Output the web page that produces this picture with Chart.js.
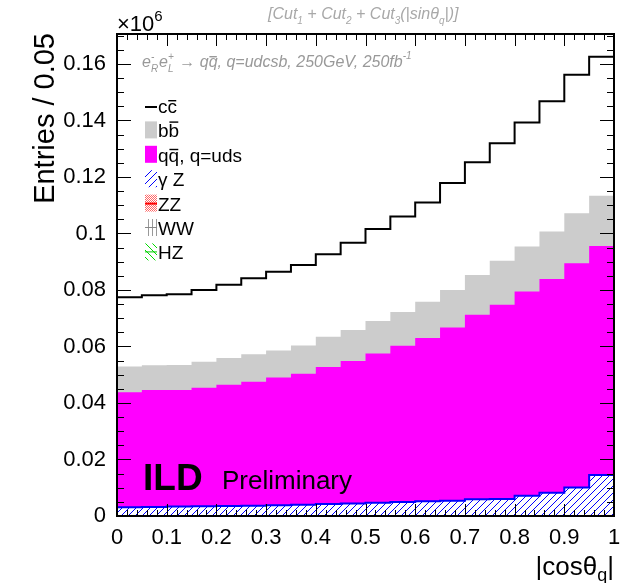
<!DOCTYPE html>
<html>
<head>
<meta charset="utf-8">
<script src="https://cdn.jsdelivr.net/npm/chart.js@4.4.1/dist/chart.umd.min.js"></script>
<style>
  html, body { margin: 0; padding: 0; background: #fff; }
  #wrap { width: 620px; height: 583px; }
</style>
</head>
<body>
<div id="wrap"><canvas id="myChart" width="620" height="583"></canvas></div>
<script>
// |cos theta_q| bins (width 0.05), entries in units of 10^6
const binEdges = [0, 0.05, 0.1, 0.15, 0.2, 0.25, 0.3, 0.35, 0.4, 0.45, 0.5,
                  0.55, 0.6, 0.65, 0.7, 0.75, 0.8, 0.85, 0.9, 0.95, 1];

// stack, bottom to top
const hzVals  = [0.00002, 0.00002, 0.00002, 0.00002, 0.00002, 0.00002, 0.00002, 0.00002, 0.00002, 0.00002,
                 0.00002, 0.00002, 0.00002, 0.00002, 0.00002, 0.00002, 0.00002, 0.00003, 0.00003, 0.00003];
const wwVals  = [0.00004, 0.00004, 0.00004, 0.00004, 0.00004, 0.00004, 0.00004, 0.00004, 0.00004, 0.00004,
                 0.00004, 0.00004, 0.00004, 0.00004, 0.00005, 0.00005, 0.00005, 0.00005, 0.00006, 0.00006];
const zzVals  = [0.00006, 0.00006, 0.00006, 0.00006, 0.00006, 0.00006, 0.00006, 0.00006, 0.00006, 0.00006,
                 0.00006, 0.00006, 0.00006, 0.00007, 0.00007, 0.00007, 0.00008, 0.00008, 0.00009, 0.00010];
const gzVals  = [0.0030, 0.0031, 0.0032, 0.0033, 0.0034, 0.0035, 0.0037, 0.0039, 0.0041, 0.0043,
                 0.0046, 0.0048, 0.0051, 0.0053, 0.0058, 0.0059, 0.0070, 0.0081, 0.0099, 0.0143];
const udsVals = [0.0407, 0.0414, 0.0413, 0.0420, 0.0429, 0.0439, 0.0452, 0.0463, 0.0485, 0.0504,
                 0.0528, 0.0553, 0.0578, 0.0613, 0.0653, 0.0687, 0.0723, 0.0756, 0.0794, 0.0811];
const bbVals  = [0.0091, 0.0087, 0.0088, 0.0092, 0.0095, 0.0097, 0.0096, 0.0100, 0.0107, 0.0110,
                 0.0115, 0.0120, 0.0128, 0.0133, 0.0141, 0.0156, 0.0159, 0.0168, 0.0177, 0.0178];
const ccVals  = [0.0245, 0.0248, 0.0251, 0.0254, 0.0259, 0.0269, 0.0278, 0.0285, 0.0292, 0.0309,
                 0.0326, 0.0338, 0.0351, 0.0378, 0.0399, 0.0416, 0.0439, 0.0461, 0.0490, 0.0492];

const xTickVals = [0, 0.1, 0.2, 0.3, 0.4, 0.5, 0.6, 0.7, 0.8, 0.9, 1];
const yTickVals = [0, 0.02, 0.04, 0.06, 0.08, 0.1, 0.12, 0.14, 0.16];
const yMax = 0.1706;

const FONT = '"Liberation Sans", Arial, sans-serif';

function makePattern(size, draw) {
  const c = document.createElement('canvas');
  c.width = c.height = size;
  const g = c.getContext('2d');
  draw(g, size);
  return g.createPattern(c, 'repeat');
}
function slashes(color, dir, bg) {
  return makePattern(7, (g, s) => {
    if (bg) { g.fillStyle = bg; g.fillRect(0, 0, s, s); }
    g.strokeStyle = color; g.lineWidth = 1;
    g.beginPath();
    for (let o = -s; o <= s; o += s) {
      if (dir > 0) { g.moveTo(o, s); g.lineTo(o + s, 0); }
      else { g.moveTo(o, 0); g.lineTo(o + s, s); }
    }
    g.stroke();
  });
}
const blueHatch = slashes('#0000ff', 1, '#ffffff');
const greenHatch = slashes('#00dd00', -1, null);
const redDots = makePattern(2, (g) => { g.fillStyle = '#ff6666'; g.fillRect(0, 0, 1, 1); g.fillRect(1, 1, 1, 1); });
const greyBars = makePattern(4, (g) => { g.fillStyle = '#999'; g.fillRect(0, 0, 1, 4); });

// cumulative stack
const stack = [
  {name: 'HZ', vals: hzVals, fill: greenHatch, line: '#00cc00', w: 2},
  {name: 'WW', vals: wwVals, fill: greyBars, line: '#888888', w: 1},
  {name: 'ZZ', vals: zzVals, fill: redDots, line: '#ff0000', w: 1},
  {name: 'gZ', vals: gzVals, fill: blueHatch, line: '#0000ff', w: 2},
  {name: 'uds', vals: udsVals, fill: '#ff00ff', line: 'rgba(0,0,0,0)', w: 1},
  {name: 'bb', vals: bbVals, fill: '#cccccc', line: 'rgba(0,0,0,0)', w: 1},
  {name: 'cc', vals: ccVals, fill: false, line: '#000000', w: 2}
];
let running = binEdges.slice(1).map(() => 0);
const datasets = stack.map(s => {
  running = running.map((r, i) => r + s.vals[i]);
  const cum = running.slice();
  return {
    label: s.name,
    data: binEdges.map((x, i) => ({x: x, y: cum[Math.min(i, cum.length - 1)]})),
    stepped: 'before',
    fill: s.fill ? 'origin' : false,
    backgroundColor: s.fill || 'rgba(0,0,0,0)',
    borderColor: s.line,
    borderWidth: s.w,
    pointRadius: 0
  };
});

// text pieces: [text, size, dy, overlineHeight] or {sup, sub, size}
function rich(ctx, x, y, parts, style) {
  let cx = x;
  for (const p of parts) {
    if (!Array.isArray(p)) {
      ctx.font = `${style || ''} ${p.size}px ${FONT}`;
      ctx.fillText(p.sup, cx, y - p.size * 0.7);
      ctx.fillText(p.sub, cx, y + p.size * 0.45);
      cx += Math.max(ctx.measureText(p.sup).width, ctx.measureText(p.sub).width) + 1;
      continue;
    }
    const [txt, size, dy = 0, over = 0] = p;
    ctx.font = `${style || ''} ${size}px ${FONT}`;
    ctx.fillText(txt, cx, y + dy);
    const w = ctx.measureText(txt).width;
    if (over) ctx.fillRect(cx + w * 0.08, y + dy - over, w * 0.84, 1.4);
    cx += w;
  }
  return cx - x;
}
function richWidth(ctx, parts, style) {
  let w = 0;
  for (const p of parts) { ctx.font = `${style || ''} ${p[1]}px ${FONT}`; w += ctx.measureText(p[0]).width; }
  return w;
}

const legendItems = [
  {parts: [['c', 19], ['c', 19, 0, 13]], kind: 'line'},
  {parts: [['b', 19], ['b', 19, 0, 16]], kind: 'grey'},
  {parts: [['q', 19], ['q', 19, 0, 13], [', q=uds', 19]], kind: 'magenta'},
  {parts: [['\u03b3 Z', 19]], kind: 'gz'},
  {parts: [['ZZ', 19]], kind: 'zz'},
  {parts: [['WW', 19]], kind: 'ww'},
  {parts: [['HZ', 19]], kind: 'hz'}
];

const rootStyle = {
  id: 'rootStyle',
  afterDatasetsDraw(chart) {
    const {ctx, chartArea: a, scales: {x, y}} = chart;
    ctx.save();
    ctx.strokeStyle = '#000';
    ctx.lineWidth = 1;
    ctx.beginPath();
    for (let k = 0; k <= 50; k++) {
      const px = Math.round(x.getPixelForValue(k * 0.02)) + 0.5;
      const len = k % 5 === 0 ? 12 : 6;
      ctx.moveTo(px, a.bottom); ctx.lineTo(px, a.bottom - len);
      ctx.moveTo(px, a.top); ctx.lineTo(px, a.top + len);
    }
    for (let k = 0; k * 0.005 <= yMax; k++) {
      const py = Math.round(y.getPixelForValue(k * 0.005)) + 0.5;
      const len = k % 4 === 0 ? 14 : 7;
      ctx.moveTo(a.left, py); ctx.lineTo(a.left + len, py);
      ctx.moveTo(a.right, py); ctx.lineTo(a.right - len, py);
    }
    ctx.stroke();
    ctx.lineWidth = 2;
    ctx.strokeRect(a.left, a.top, a.right - a.left, a.bottom - a.top);
    ctx.restore();
  },
  afterDraw(chart) {
    const {ctx, chartArea: a} = chart;
    ctx.save();
    ctx.textBaseline = 'alphabetic';
    ctx.textAlign = 'left';

    // x10^6
    ctx.fillStyle = '#000';
    rich(ctx, a.left, 31, [['\u00d710', 22], ['6', 15, -10]]);

    // top title
    ctx.fillStyle = '#a8a8a8';
    rich(ctx, 268, 19, [['[Cut', 16], ['1', 10, 5], [' + Cut', 16], ['2', 10, 5], [' + Cut', 16], ['3', 10, 5],
      ['(|sin\u03b8', 16], ['q', 10, 5], ['|)]', 16]], 'italic');

    // process text
    ctx.fillStyle = '#999999';
    rich(ctx, 142, 67, [['e', 16], {sup: '-', sub: 'R', size: 10}, ['e', 16], {sup: '+', sub: 'L', size: 10},
      [' \u2192 q', 16], ['q', 16, 0, 11], [', q=udcsb, 250GeV, 250fb', 16], ['-1', 10, -8]], 'italic');

    // legend
    ctx.fillStyle = '#000';
    legendItems.forEach((it, i) => {
      const base = 113 + i * 24.4;
      const bx = 145, bw = 12, top = base - 16, bh = 17;
      ctx.save();
      if (it.kind === 'line') {
        ctx.strokeStyle = '#000'; ctx.lineWidth = 2;
        ctx.beginPath(); ctx.moveTo(bx, base - 6); ctx.lineTo(bx + bw, base - 6); ctx.stroke();
      } else if (it.kind === 'grey') {
        ctx.fillStyle = '#cccccc'; ctx.fillRect(bx, top, bw, bh);
      } else if (it.kind === 'magenta') {
        ctx.fillStyle = '#ff00ff'; ctx.fillRect(bx, top, bw, bh);
      } else if (it.kind === 'gz') {
        ctx.fillStyle = blueHatch; ctx.fillRect(bx, top, bw, bh);
      } else if (it.kind === 'zz') {
        ctx.fillStyle = redDots; ctx.fillRect(bx, top, bw, bh);
        ctx.fillStyle = '#ff0000'; ctx.fillRect(bx, top + 8, bw, 2);
      } else if (it.kind === 'ww') {
        ctx.fillStyle = greyBars; ctx.fillRect(bx, top, bw, bh);
        ctx.fillStyle = '#888'; ctx.fillRect(bx, top + 8, bw, 1);
      } else if (it.kind === 'hz') {
        ctx.fillStyle = greenHatch; ctx.fillRect(bx, top, bw, bh);
        ctx.fillStyle = '#00cc00'; ctx.fillRect(bx, top + 8, bw, 1);
      }
      ctx.restore();
      ctx.fillStyle = '#000';
      rich(ctx, 158, base, it.parts);
    });

    // ILD Preliminary
    ctx.fillStyle = '#000';
    ctx.font = `bold 37px ${FONT}`;
    ctx.fillText('ILD', 143, 490);
    ctx.font = `26px ${FONT}`;
    ctx.fillText('Preliminary', 222, 489);

    // y axis title
    ctx.save();
    ctx.translate(53.5, a.top - 1);
    ctx.rotate(-Math.PI / 2);
    ctx.textAlign = 'right';
    ctx.font = `29px ${FONT}`;
    ctx.fillText('Entries / 0.05', 0, 0);
    ctx.restore();

    // x axis title
    const xt = [['|cos\u03b8', 26], ['q', 18, 6], ['|', 26]];
    const w = richWidth(ctx, xt);
    rich(ctx, a.right - w, 575, xt);
    ctx.restore();
  }
};

const ctx = document.getElementById('myChart').getContext('2d');
window.myChart = new Chart(ctx, {
  type: 'line',
  data: { datasets: datasets },
  options: {
    responsive: false,
    animation: false,
    layout: { padding: { left: 0, right: 6, top: 34, bottom: 0 } },
    plugins: { legend: { display: false }, tooltip: { enabled: false } },
    scales: {
      x: {
        type: 'linear', min: 0, max: 1,
        grid: { display: false }, border: { display: false },
        afterBuildTicks: s => { s.ticks = xTickVals.map(v => ({ value: v })); },
        afterFit: s => { s.height = 67; s.paddingLeft = 0; s.paddingRight = 0; },
        ticks: {
          font: { family: FONT, size: 22 }, color: '#000', padding: 1,
          maxRotation: 0, autoSkip: false,
          callback: v => String(+v.toFixed(2))
        }
      },
      y: {
        type: 'linear', min: 0, max: yMax,
        grid: { display: false }, border: { display: false },
        afterBuildTicks: s => { s.ticks = yTickVals.map(v => ({ value: v })); },
        afterFit: s => { s.width = 117; },
        ticks: {
          font: { family: FONT, size: 22 }, color: '#000', padding: 3,
          autoSkip: false,
          callback: v => String(+v.toFixed(3))
        }
      }
    }
  },
  plugins: [rootStyle]
});
</script>
</body>
</html>
